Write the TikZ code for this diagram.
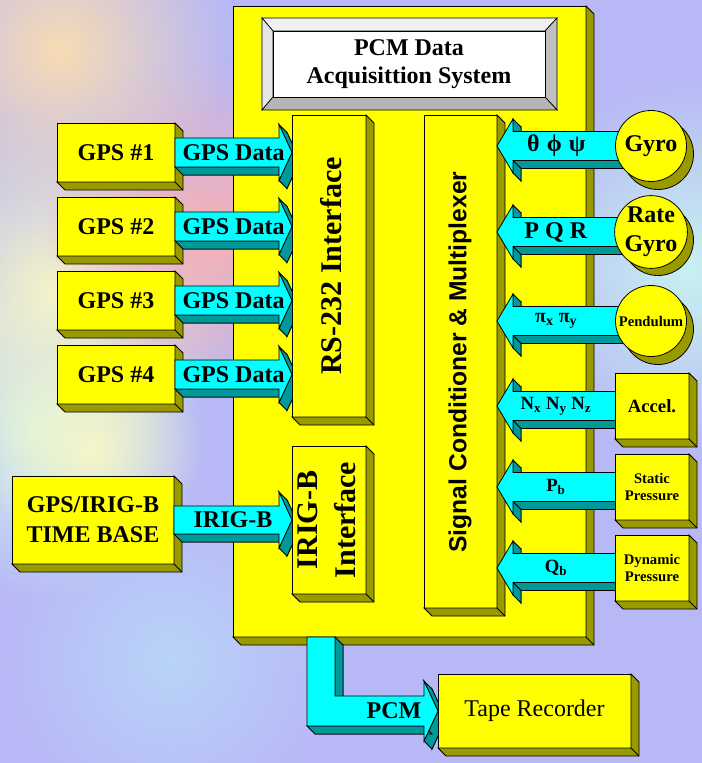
\documentclass[tikz,border=0pt]{standalone}
\usepackage{fontspec}
\setmainfont{Liberation Serif}
\newfontfamily\sansfam{Liberation Sans}
\usetikzlibrary{calc,fit,fadings}
\pgfdeclarelayer{bglayer}
\pgfdeclarelayer{lower}
\pgfdeclarelayer{arrows}
\pgfsetlayers{bglayer,lower,arrows,main}

\definecolor{bglav}{HTML}{B8B8F6}
\definecolor{ylw}{HTML}{FFFF00}
\definecolor{olv}{HTML}{999900}
\definecolor{cyn}{HTML}{00FFFF}
\definecolor{tea}{HTML}{009999}
\definecolor{bPink}{HTML}{F8B0B4}
\definecolor{bPeach}{HTML}{F8DCB4}
\definecolor{bYel}{HTML}{F6F6C8}
\definecolor{bCyan}{HTML}{D0F4EC}
\definecolor{bRCyan}{HTML}{C8F2F0}
\definecolor{bBlue}{HTML}{B8D4F8}

\tikzfading[name=softdisc, inner color=transparent!0, outer color=transparent!100]

\tikzset{
  face/.style={draw=black, line width=0.6pt, fill=ylw, inner sep=0pt, outer sep=0pt},
  side/.style={draw=black, line width=0.6pt, fill=olv},
  afront/.style={draw=black, line width=0.6pt, fill=cyn},
  aback/.style={draw=black, line width=0.6pt, fill=tea},
  lbl/.style={font=\bfseries\fontsize{18}{21.5}\selectfont, align=center, inner sep=0pt},
  lblM/.style={font=\bfseries\fontsize{14}{16}\selectfont, align=center, inner sep=0pt},
  lblS/.style={font=\bfseries\fontsize{11}{12.8}\selectfont, align=center, inner sep=0pt},
  bevel/.style={draw=black, line width=0.5pt},
}

% olive 3D sides of a box node
\newcommand\sides[1]{%
  \filldraw[side] (#1.north east) -- ($(#1.north east)+(8,8)$) -- ($(#1.south east)+(8,8)$)
     -- ($(#1.south west)+(8,8)$) -- (#1.south west) -- (#1.south east) -- cycle;
  \draw[line width=0.6pt] (#1.south east) -- ($(#1.south east)+(8,8)$);
}

% right-pointing 3D block arrow: name, start, tip, body half, head half, head length, label
\newcommand\rarrow[7]{%
  \coordinate (s) at #2; \coordinate (t) at #3;
  \coordinate (a1) at ($(s)+(0,-#4)$);
  \coordinate (a2) at ($(t)+(-#6,-#4)$);
  \coordinate (a3) at ($(t)+(-#6,-#5)$);
  \coordinate (a4) at (t);
  \coordinate (a5) at ($(t)+(-#6,#5)$);
  \coordinate (a6) at ($(t)+(-#6,#4)$);
  \coordinate (a7) at ($(s)+(0,#4)$);
  \foreach \i in {1,...,7}{\coordinate (b\i) at ($(a\i)+(8,8)$);}
  \filldraw[aback] (b1)--(b2)--(b3)--(b4)--(b5)--(b6)--(b7)--cycle;
  \filldraw[aback] (a6)--(a7)--(b7)--(b6)--cycle;
  \filldraw[aback] (a3)--(a4)--(b4)--(b3)--cycle;
  \filldraw[aback] (a4)--(a5)--(b5)--(b4)--cycle;
  \filldraw[afront] (a1)--(a2)--(a3)--(a4)--(a5)--(a6)--(a7)--cycle;
  \node[lbl] (#1) at ($(s)!0.5!(t)$) {#7};
}

% left-pointing 3D block arrow
\newcommand\larrow[7]{%
  \coordinate (s) at #2; \coordinate (t) at #3;
  \coordinate (a1) at ($(s)+(12,-#4)$);
  \coordinate (a2) at ($(t)+(#6,-#4)$);
  \coordinate (a3) at ($(t)+(#6,-#5)$);
  \coordinate (a4) at (t);
  \coordinate (a5) at ($(t)+(#6,#5)$);
  \coordinate (a6) at ($(t)+(#6,#4)$);
  \coordinate (a7) at ($(s)+(12,#4)$);
  \foreach \i in {1,...,7}{\coordinate (b\i) at ($(a\i)+(8,8)$);}
  \filldraw[aback] (b1)--(b2)--(b3)--(b4)--(b5)--(b6)--(b7)--cycle;
  \filldraw[aback] (a6)--(a7)--(b7)--(b6)--cycle;
  \filldraw[aback] (a5)--(a6)--(b6)--(b5)--cycle;
  \filldraw[aback] (a2)--(a3)--(b3)--(b2)--cycle;
  \filldraw[afront] (a1)--(a2)--(a3)--(a4)--(a5)--(a6)--(a7)--cycle;
  \node[lbl] (#1) at ($(s)!0.5!(t)$) {#7};
}

\begin{document}
\begin{tikzpicture}[x=0.75pt, y=-0.75pt, line join=miter]
\useasboundingbox (0,0) rectangle (702,763);

% ---------- background ----------
\begin{pgfonlayer}{bglayer}
  \fill[bglav] (0,0) rectangle (702,763);
  \fill[bRCyan, path fading=softdisc] (690,270) circle (190);
  \fill[bBlue, path fading=softdisc] (170,660) circle (170);
  \fill[bCyan, path fading=softdisc] (40,430) circle (170);
  \fill[bYel, path fading=softdisc] (60,290) circle (180);
  \fill[bYel, path fading=softdisc] (90,450) circle (110);
  \fill[bPink, path fading=softdisc] (210,230) circle (170);
  \fill[bPeach, path fading=softdisc] (60,50) circle (170);
\end{pgfonlayer}

% ---------- lower layer: main frame and sources on the left ----------
\begin{pgfonlayer}{lower}
  \node[face, fit={(233,6) (586,637)}] (main) {};
  \sides{main}

  % title plate
  \node[inner sep=0pt, outer sep=0pt, fit={(262,18) (557,110)}] (title) {};
  \filldraw[bevel, fill=gray!12] (262,18) -- (557,18) -- (545,31) -- (273,31) -- cycle;
  \filldraw[bevel, fill=gray!20] (262,18) -- (273,31) -- (273,97) -- (262,110) -- cycle;
  \filldraw[bevel, fill=gray!50] (557,18) -- (557,110) -- (545,97) -- (545,31) -- cycle;
  \filldraw[bevel, fill=gray!58] (262,110) -- (273,97) -- (545,97) -- (557,110) -- cycle;
  \node[bevel, fill=white, inner sep=0pt, outer sep=0pt, fit={(273,31) (545,97)}] (plate) {};
  \node[lbl, font=\bfseries\fontsize{18}{21}\selectfont] (titletext) at (plate.center)
     {PCM Data\\Acquisittion System};

  \foreach \i/\y in {1/123, 2/197, 3/271, 4/345}{
    \node[face, fit={(57,\y) (175,\y+59)}] (gps\i) {};
    \sides{gps\i}
    \node[lbl] (gpst\i) at (gps\i.center) {GPS \#\i};
  }
  \node[face, fit={(12,476) (174,564)}] (tb) {};
  \sides{tb}
  \node[lbl, font=\bfseries\fontsize{18}{22.5}\selectfont] (tbt) at (tb.center) {GPS/IRIG-B\\TIME BASE};

  \node[face, fit={(424,115) (497,608)}] (sig) {};
  \sides{sig}
  \node[rotate=90, inner sep=0pt, font=\sansfam\bfseries\fontsize{18.5}{22}\selectfont]
     (sigtext) at (460,362) {Signal Conditioner \& Multiplexer};
\end{pgfonlayer}

% ---------- front: interfaces, sensors, recorder ----------
\node[face, fit={(292,115) (366,417)}] (rs) {};
\sides{rs}
\node[rotate=90, inner sep=0pt, font=\bfseries\fontsize{22.5}{27}\selectfont]
   (rstext) at (331,266) {RS-232 Interface};

\node[face, fit={(292,446) (366,594)}] (irig) {};
\sides{irig}
\node[rotate=90, inner sep=0pt, align=center, font=\bfseries\fontsize{22.5}{28.5}\selectfont]
   (irigtext) at (327,520) {IRIG-B\\Interface};

\foreach \n/\y in {gyro/146, rgyro/232, pend/321}{
  \filldraw[side] (658,\y+8) circle (35.5);
}
\node[face, circle, minimum size=71*0.75pt, lbl] (gyro) at (651,146) {Gyro};
\node[face, circle, minimum size=71*0.75pt, lbl, font=\bfseries\fontsize{18}{22}\selectfont]
   (rgyro) at (651,232) {Rate\\Gyro};
\node[face, circle, minimum size=71*0.75pt, lblS] (pend) at (651,321) {Pendulum};

\node[face, fit={(615,373) (689,439)}] (acc) {};
\sides{acc}
\node[lblM] (acct) at (acc.center) {Accel.};
\node[face, fit={(615,454) (689,520)}] (stat) {};
\sides{stat}
\node[lblS] (statt) at (stat.center) {Static\\Pressure};
\node[face, fit={(615,535) (689,601)}] (dyn) {};
\sides{dyn}
\node[lblS] (dynt) at (dyn.center) {Dynamic\\Pressure};

\node[face, fit={(438,674) (631,748)}] (tape) {};
\sides{tape}
\node[inner sep=0pt, font=\fontsize{18}{21}\selectfont] (tapet) at (tape.center) {Tape Recorder};

% ---------- arrows ----------
\begin{pgfonlayer}{arrows}
  \foreach \i in {1,...,4}{
    \rarrow{gpsdata\i}{(gps\i.east)}{(rs.west |- gps\i.east)}{14.5}{28}{13}{GPS Data}
  }
  \rarrow{irigb}{(tb.east)}{(irig.west |- tb.east)}{14}{28}{13}{IRIG-B}

  \larrow{angles}{(gyro.west)}{(sig.east |- gyro.west)}{14.5}{27}{16}{θ\hspace{0.3em}ϕ\hspace{0.3em}ψ}
  \larrow{rates}{(rgyro.west)}{(sig.east |- rgyro.west)}{14.5}{27}{16}{P Q R}
  \larrow{pis}{(pend.west)}{(sig.east |- pend.west)}{14.5}{27}{16}{\fontsize{15}{17}\selectfont π\textsubscript{x} π\textsubscript{y}}
  \larrow{accs}{(acc.west)}{(sig.east |- acc.west)}{14.5}{27}{16}{\fontsize{14}{16}\selectfont N\textsubscript{x} N\textsubscript{y} N\textsubscript{z}}
  \larrow{pb}{(stat.west)}{(sig.east |- stat.west)}{14.5}{27}{16}{\fontsize{14}{16}\selectfont P\textsubscript{b}}
  \larrow{qb}{(dyn.west)}{(sig.east |- dyn.west)}{14.5}{27}{16}{\fontsize{14}{16}\selectfont Q\textsubscript{b}}

  % PCM L-shaped arrow from the main frame to the tape recorder
  \coordinate (c1) at ($(main.south west)+(74,0)$);
  \coordinate (c2) at ($(c1)+(28,0)$);
  \coordinate (u) at ($(tape.west)+(0,-15)$);
  \coordinate (c3) at (c2 |- u);
  \coordinate (c4) at ($(tape.west)+(-14,-15)$);
  \coordinate (c5) at ($(tape.west)+(-14,-30)$);
  \coordinate (c6) at (tape.west);
  \coordinate (c7) at ($(tape.west)+(-14,30)$);
  \coordinate (c8) at ($(tape.west)+(-14,15)$);
  \coordinate (c9) at (c1 |- c8);
  \foreach \i in {1,...,9}{\coordinate (d\i) at ($(c\i)+(8,8)$);}
  \filldraw[aback] (d1)--(d2)--(d3)--(d4)--(d5)--(d6)--(d7)--(d8)--(d9)--cycle;
  \filldraw[aback] (c2)--(c3)--(d3)--(d2)--cycle;
  \filldraw[aback] (c5)--(c6)--(d6)--(d5)--cycle;
  \filldraw[aback] (c6)--(c7)--(d7)--(d6)--cycle;
  \filldraw[aback] (c8)--(c9)--(d9)--(d8)--cycle;
  \filldraw[afront] (c1)--(c2)--(c3)--(c4)--(c5)--(c6)--(c7)--(c8)--(c9)--cycle;
  \node[lbl] (pcm) at ($(c8)+(-30,-15)$) {PCM};
\end{pgfonlayer}
\end{tikzpicture}
\end{document}
